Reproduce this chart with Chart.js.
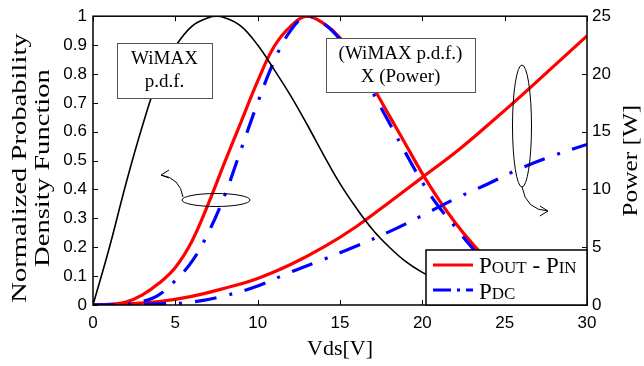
<!DOCTYPE html>
<html>
<head>
<meta charset="utf-8">
<script src="https://cdn.jsdelivr.net/npm/chart.js@4.4.0/dist/chart.umd.min.js"></script>
<style>
  html, body { margin: 0; padding: 0; background: #fff; }
</style>
</head>
<body>
<canvas id="chart" width="644" height="366"></canvas>
<script>
// WiMAX p.d.f. (left axis)
const pdfVds = [0, 1, 2, 3, 4, 5, 6, 7, 7.5, 8, 9, 10, 11, 12, 13, 14, 15, 16, 17, 18, 19, 20, 21, 22];
const pdfValues = [0, 0.2, 0.42, 0.62, 0.79, 0.895, 0.965, 0.995, 1.0, 0.995, 0.965, 0.9, 0.815, 0.725, 0.625, 0.52, 0.42, 0.335, 0.26, 0.2, 0.15, 0.113, 0.085, 0.065];

// (WiMAX p.d.f.) x (Power), normalized (left axis)
const productVds = [0, 1, 2, 3, 4, 5, 6, 7, 8, 9, 10, 11, 12, 13, 14, 15, 16, 17, 18, 19, 20, 21, 22, 23, 24, 25, 26, 27, 28, 29, 30];
const productRfOut = [0, 0.002, 0.01, 0.035, 0.075, 0.13, 0.22, 0.35, 0.495, 0.635, 0.775, 0.895, 0.965, 1.0, 0.975, 0.925, 0.845, 0.755, 0.655, 0.555, 0.455, 0.365, 0.285, 0.215, 0.155, 0.11, 0.07, 0.045, 0.025, 0.012, 0.005];
const productDc = [0, 0, 0.002, 0.012, 0.035, 0.085, 0.15, 0.25, 0.38, 0.54, 0.7, 0.845, 0.95, 1.0, 0.975, 0.92, 0.84, 0.735, 0.63, 0.525, 0.425, 0.34, 0.27, 0.2, 0.14, 0.1, 0.065, 0.04, 0.02, 0.01, 0.004];

// Power curves (right axis, W)
const powerVds = [0, 2, 4, 6, 8, 10, 12, 14, 16, 18, 20, 22, 24, 26, 28, 30];
const poutMinusPin = [0, 0.1, 0.3, 0.75, 1.45, 2.3, 3.5, 5.0, 6.8, 8.9, 11.05, 13.2, 15.6, 18.1, 20.7, 23.3];
const pdc = [0, 0.03, 0.1, 0.25, 0.8, 1.65, 2.85, 3.95, 5.1, 6.35, 7.75, 9.2, 10.5, 11.85, 12.95, 13.9];

const xTicks = [0, 5, 10, 15, 20, 25, 30];
const legendLabels = ['POUT - PIN', 'PDC'];

const SERIF = '"Liberation Serif", "Times New Roman", serif';
const SANS = '"Liberation Sans", Arial, sans-serif';
const dashDot = [22, 13, 3, 13];

function pts(xs, ys) {
    return xs.map((x, i) => ({ x: x, y: ys[i] }));
}

// small caps text like "POUT - PIN"
function smallCaps(ctx, text, x, y, big, small) {
    const parts = text === 'PDC'
        ? [['P', big], ['DC', small]]
        : [['P', big], ['OUT', small], [' - ', big], ['P', big], ['IN', small]];
    parts.forEach(([s, size]) => {
        ctx.font = size + 'px ' + SERIF;
        ctx.fillText(s, x, y);
        x += ctx.measureText(s).width;
    });
}

const decorPlugin = {
    id: 'decor',
    afterDraw(chart) {
        const ctx = chart.ctx;
        const a = chart.chartArea;
        const sx = chart.scales.x, sy = chart.scales.y, sy2 = chart.scales.y2;
        ctx.save();

        // inward tick marks
        ctx.strokeStyle = '#000';
        ctx.lineWidth = 1;
        ctx.beginPath();
        sx.ticks.forEach(t => {
            const px = Math.round(sx.getPixelForValue(t.value)) + 0.5;
            ctx.moveTo(px, a.bottom); ctx.lineTo(px, a.bottom - 5);
            ctx.moveTo(px, a.top); ctx.lineTo(px, a.top + 5);
        });
        sy.ticks.forEach(t => {
            const py = Math.round(sy.getPixelForValue(t.value)) + 0.5;
            ctx.moveTo(a.left, py); ctx.lineTo(a.left + 5, py);
        });
        sy2.ticks.forEach(t => {
            const py = Math.round(sy2.getPixelForValue(t.value)) + 0.5;
            ctx.moveTo(a.right, py); ctx.lineTo(a.right - 5, py);
        });
        ctx.stroke();

        // frame
        ctx.lineWidth = 1.5;
        ctx.strokeRect(a.left, a.top, a.right - a.left, a.bottom - a.top);

        // text boxes
        ctx.lineWidth = 1;
        ctx.strokeStyle = '#555';
        ctx.fillStyle = '#fff';
        ctx.fillRect(117, 43, 95, 55);
        ctx.strokeRect(117.5, 43.5, 95, 55);
        ctx.fillRect(326, 38, 149, 54);
        ctx.strokeRect(326.5, 38.5, 149, 54);
        ctx.fillStyle = '#000';
        ctx.textAlign = 'center';
        ctx.textBaseline = 'middle';
        ctx.font = '19px ' + SERIF;
        ctx.fillText('WiMAX', 164.5, 59);
        ctx.fillText('p.d.f.', 164.5, 82);
        ctx.fillText('(WiMAX p.d.f.)', 400.5, 54);
        ctx.fillText('X (Power)', 400.5, 77);

        // ellipses with arrows
        ctx.strokeStyle = '#000';
        ctx.lineWidth = 1;
        ctx.beginPath();
        ctx.ellipse(216, 200, 34, 6.5, 0, 0, Math.PI * 2);
        ctx.stroke();
        ctx.beginPath();
        ctx.moveTo(183, 197);
        ctx.quadraticCurveTo(180, 178, 161, 175);
        ctx.moveTo(169, 170); ctx.lineTo(161, 175); ctx.lineTo(169, 178);
        ctx.stroke();

        ctx.beginPath();
        ctx.ellipse(522, 126, 9.5, 61, 0, 0, Math.PI * 2);
        ctx.stroke();
        ctx.beginPath();
        ctx.moveTo(522, 187);
        ctx.quadraticCurveTo(526, 210, 548, 211);
        ctx.moveTo(540, 206); ctx.lineTo(548, 211); ctx.lineTo(540, 216);
        ctx.stroke();

        // legend
        ctx.fillStyle = '#fff';
        ctx.fillRect(426, 250, 161, 55);
        ctx.strokeStyle = '#000';
        ctx.lineWidth = 1.5;
        ctx.strokeRect(426, 250, 161, 55);
        ctx.lineWidth = 3;
        ctx.strokeStyle = '#ff0000';
        ctx.beginPath(); ctx.moveTo(433, 265); ctx.lineTo(473, 265); ctx.stroke();
        ctx.strokeStyle = '#0000ff';
        ctx.setLineDash([18, 6, 3, 6]);
        ctx.beginPath(); ctx.moveTo(433, 290); ctx.lineTo(473, 290); ctx.stroke();
        ctx.setLineDash([]);
        ctx.fillStyle = '#000';
        ctx.textAlign = 'left';
        ctx.textBaseline = 'alphabetic';
        smallCaps(ctx, legendLabels[0], 479, 273, 23, 17);
        smallCaps(ctx, legendLabels[1], 479, 299, 23, 17);

        // axis titles (the y titles look stretched along their length in the original)
        ctx.textAlign = 'center';
        ctx.textBaseline = 'middle';
        ctx.font = '22px ' + SERIF;
        ctx.fillText('Vds[V]', (a.left + a.right) / 2, 349);
        const cy = (a.top + a.bottom) / 2;
        [['Normalized Probability', 20, 168, 1.3], ['Density Function', 43, 168, 1.3], ['Power [W]', 631, cy, 1.15]].forEach(([s, x, y, k]) => {
            ctx.save();
            ctx.translate(x, y);
            ctx.rotate(-Math.PI / 2);
            ctx.scale(k, 1);
            ctx.fillText(s, 0, 0);
            ctx.restore();
        });
        ctx.restore();
    }
};

new Chart(document.getElementById('chart'), {
    type: 'line',
    data: {
        datasets: [
            {
                data: pts(pdfVds, pdfValues),
                yAxisID: 'y',
                borderColor: '#000',
                borderWidth: 1.6
            },
            {
                data: pts(productVds, productDc),
                yAxisID: 'y',
                borderColor: '#0000ff',
                borderWidth: 3.2,
                borderDash: dashDot
            },
            {
                data: pts(powerVds, pdc),
                yAxisID: 'y2',
                borderColor: '#0000ff',
                borderWidth: 3.2,
                borderDash: dashDot
            },
            {
                data: pts(productVds, productRfOut),
                yAxisID: 'y',
                borderColor: '#ff0000',
                borderWidth: 3.2
            },
            {
                data: pts(powerVds, poutMinusPin),
                yAxisID: 'y2',
                borderColor: '#ff0000',
                borderWidth: 3.2
            }
        ]
    },
    options: {
        responsive: false,
        animation: false,
        devicePixelRatio: 1,
        layout: { padding: { top: 13 } },
        elements: {
            point: { radius: 0 },
            line: { tension: 0.4, fill: false }
        },
        scales: {
            x: {
                type: 'linear',
                min: 0,
                max: 30,
                afterBuildTicks: s => { s.ticks = xTicks.map(v => ({ value: v })); },
                ticks: { color: '#000', font: { family: SANS, size: 17 }, padding: 8, maxRotation: 0 },
                grid: { display: false, drawTicks: false },
                border: { display: false },
                afterFit: s => { s.height = 61; }
            },
            y: {
                position: 'left',
                min: 0,
                max: 1,
                ticks: {
                    stepSize: 0.1, color: '#000', font: { family: SANS, size: 17 }, padding: 6,
                    callback: v => String(Number(v.toFixed(1)))
                },
                grid: { display: false, drawTicks: false },
                border: { display: false },
                afterFit: s => { s.width = 93; }
            },
            y2: {
                position: 'right',
                min: 0,
                max: 25,
                ticks: { stepSize: 5, color: '#000', font: { family: SANS, size: 17 }, padding: 5 },
                grid: { display: false, drawTicks: false },
                border: { display: false },
                afterFit: s => { s.width = 57; }
            }
        },
        plugins: {
            legend: { display: false },
            tooltip: { enabled: false }
        }
    },
    plugins: [decorPlugin]
});
</script>
</body>
</html>
